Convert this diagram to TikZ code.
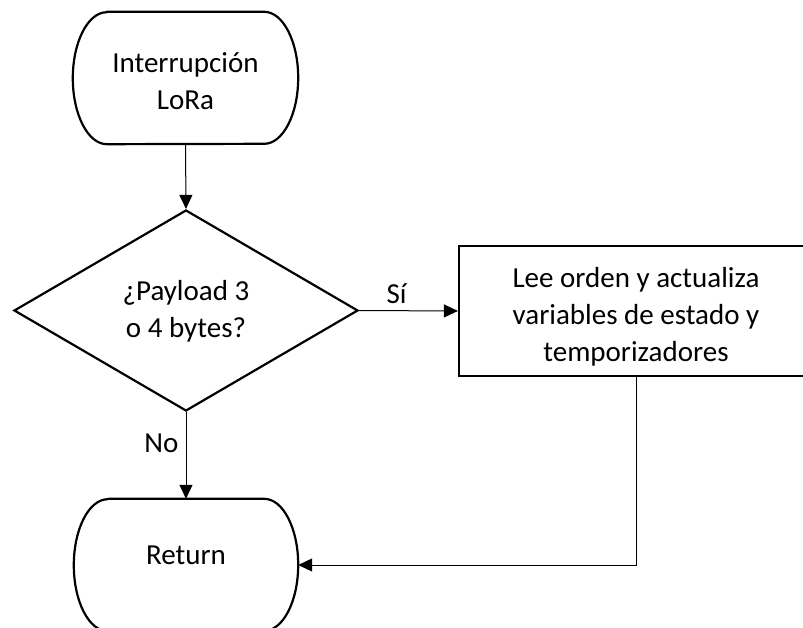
\documentclass[tikz,border=0pt]{standalone}
\usepackage{fontspec}
\setmainfont{Carlito}
\usetikzlibrary{shapes.geometric,arrows.meta}
\begin{document}
\begin{tikzpicture}[x=1pt,y=1pt,
  txt/.style={font=\fontsize{29}{37}\selectfont, align=center, text=black, inner sep=0pt},
  termbox/.style={minimum width=225pt,minimum height=132pt,inner sep=0pt},
  decision/.style={diamond,draw,line width=2.2pt,aspect=1.7,inner sep=0pt,
                   minimum width=344pt,minimum height=201pt},
  process/.style={rectangle,draw,line width=2.2pt,minimum width=354pt,
                  minimum height=130pt,inner sep=0pt},
  outline/.style={line width=2.2pt,line join=round},
  flow/.style={line width=1pt,-{Triangle[length=14pt,width=13pt]}},
  lbl/.style={font=\fontsize{29}{37}\selectfont, text=black, inner sep=0pt}
]
\useasboundingbox (0,0) rectangle (803,-628);
\clip (0,0) rectangle (803,-628);

% terminator outline: straight top and bottom, half-ellipse ends
\newcommand\termoutline[1]{%
  \draw[outline] ([xshift=34pt]#1.north west) -- ([xshift=-34pt]#1.north east)
    arc[start angle=90,end angle=-90,x radius=34pt,y radius=66pt]
    -- ([xshift=34pt]#1.south west)
    arc[start angle=270,end angle=90,x radius=34pt,y radius=66pt] -- cycle;}

% shapes
\node[termbox] (start) at (185.5,-78) {};
\termoutline{start}
\node[txt] (starttext) at (185.5,-81) {Interrupción\\LoRa};

\node[decision] (check) at (186,-310.5) {};
\node[txt] (checktext) at (186,-311.5) {¿Payload 3\\o 4 bytes?};

\node[process] (update) at (636,-311) {};
\node[txt] (updatetext) at (636,-317) {Lee orden y actualiza\\variables de estado y\\temporizadores};

\node[termbox, minimum width=224pt] (ret) at (186,-565) {};
\termoutline{ret}
\node[txt] (rettext) at (186,-555.5) {Return};

% connectors
\draw[flow] (start.south) -- (check.north);
\draw[flow] (check.east) -- (update.west) node[lbl, pos=0.38, above=6pt] (yes) {Sí};
\draw[flow] (check.south) -- (ret.north) node[lbl, pos=0.36, left=7pt] (no) {No};
\draw[flow] (update.south) |- (ret.east);
\end{tikzpicture}
\end{document}
